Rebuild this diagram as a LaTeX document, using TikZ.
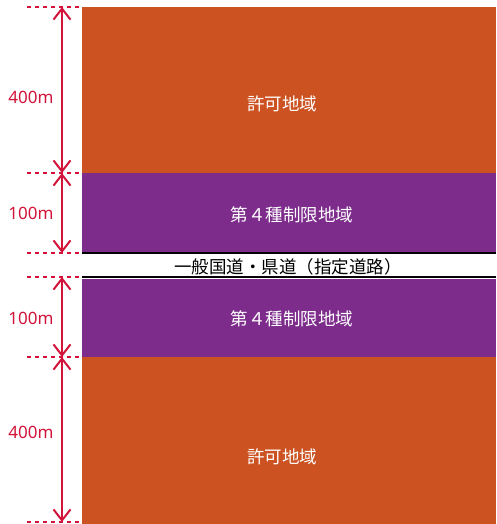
\documentclass[tikz,border=0pt]{standalone}
\usepackage{fontspec}
\setmainfont{Noto Sans}
\newfontfamily\jpfont{Noto Sans CJK JP}
\usetikzlibrary{arrows.meta}
\definecolor{zoneorange}{RGB}{204,82,34}
\definecolor{zonepurple}{RGB}{125,44,140}
\definecolor{dimred}{RGB}{210,20,58}
\tikzset{
  band/.style={rectangle, inner sep=0pt, outer sep=0pt, minimum width=414pt, draw=none},
  roadline/.style={draw=black, line width=2.5pt},
  zonelabel/.style={font=\jpfont\fontsize{17.5}{17.5}\selectfont, text=white, inner sep=0pt},
  roadlabel/.style={font=\jpfont\fontsize{17.5}{17.5}\selectfont, text=black, inner sep=0pt},
  dimlabel/.style={font=\fontsize{17}{17}\selectfont, text=dimred, inner sep=0pt},
  dimline/.style={draw=dimred, line width=2pt, line cap=butt,
    {Straight Barb[length=11pt,width=17pt]}-{Straight Barb[length=11pt,width=17pt]}},
  extline/.style={draw=dimred, line width=2pt, dash pattern=on 4pt off 4pt}
}
\begin{document}
\begin{tikzpicture}[x=1pt,y=-1pt]
\useasboundingbox (0,0) rectangle (496,524);
% bands
\node[band, fill=zoneorange, minimum height=166pt] (orangeA) at (289,90) {};
\node[band, fill=zonepurple, minimum height=80pt] (purpleA) at (289,213) {};
\node[band, fill=white, minimum height=24pt] (road) at (289,265) {};
\node[band, fill=zonepurple, minimum height=78pt] (purpleB) at (289,318) {};
\node[band, fill=zoneorange, minimum height=168pt] (orangeB) at (289,441) {};
\draw[roadline] (road.north west) -- (road.north east);
\draw[roadline] (road.south west) -- (road.south east);
% labels
\node[zonelabel] (tA) at (282,104) {許可地域};
\node[zonelabel] (tB) at (292,215) {第４種制限地域};
\node[roadlabel] (tR) at (288,267) {一般国道・県道（指定道路）};
\node[zonelabel] (tC) at (292,319) {第４種制限地域};
\node[zonelabel] (tD) at (282,457) {許可地域};
% dimension marks
\coordinate (m0) at (62,7);
\coordinate (m1) at (62,173);
\coordinate (m2) at (62,253);
\coordinate (m3) at (62,277);
\coordinate (m4) at (62,357);
\coordinate (m5) at (62,522);
\foreach \m/\y in {e0/7,e1/173,e2/253,e3/277,e4/357,e5/522}{
  \coordinate (\m l) at (27,\y);
  \coordinate (\m r) at (82,\y);
  \draw[extline] (\m l) -- (\m r);
}
\draw[dimline] (m0) -- (m1);
\draw[dimline] (m1) -- (m2);
\draw[dimline] (m3) -- (m4);
\draw[dimline] (m4) -- (m5);
\node[dimlabel] (d0) at (31,97) {400m};
\node[dimlabel] (d1) at (31,213) {100m};
\node[dimlabel] (d2) at (31,318) {100m};
\node[dimlabel] (d3) at (31,432) {400m};
\end{tikzpicture}
\end{document}
